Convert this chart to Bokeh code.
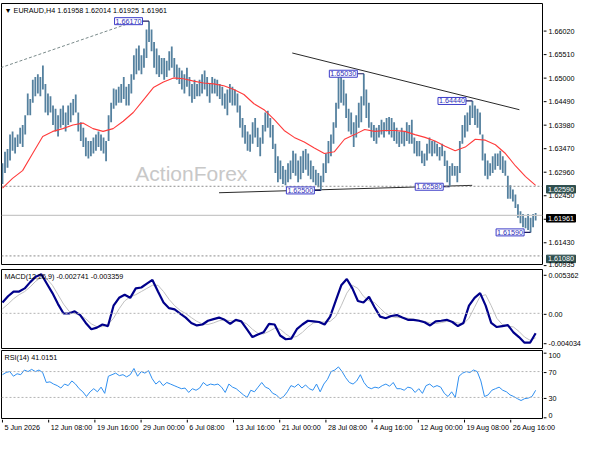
import numpy as np
from bokeh.plotting import figure
from bokeh.models import Range1d, Span, Label
from bokeh.layouts import column, row
from bokeh.core.properties import value
from bokeh.embed import file_html
from bokeh.resources import INLINE

# ---------------- data ----------------
SYMBOL_TITLE = "\u25BC EURAUD,H4  1.61958 1.62014 1.61925 1.61961"
LAST_BAR = 369.25  # index of last H4 bar

HIGH = [1.6309, 1.6334, 1.6340, 1.6371, 1.6378, 1.6365, 1.6371, 1.6386, 1.6392, 1.6413,
        1.6460, 1.6448, 1.6490, 1.6496, 1.6502, 1.6496, 1.6521, 1.6481, 1.6460, 1.6454,
        1.6434, 1.6427, 1.6413, 1.6427, 1.6434, 1.6419, 1.6434, 1.6440, 1.6448, 1.6458,
        1.6419, 1.6398, 1.6386, 1.6365, 1.6357, 1.6357, 1.6365, 1.6371, 1.6378, 1.6371,
        1.6365, 1.6357, 1.6413, 1.6440, 1.6471, 1.6469, 1.6475, 1.6481, 1.6496, 1.6475,
        1.6481, 1.6502, 1.6543, 1.6558, 1.6564, 1.6543, 1.6558, 1.6599, 1.6617, 1.6599,
        1.6572, 1.6558, 1.6543, 1.6537, 1.6537, 1.6531, 1.6552, 1.6562, 1.6537, 1.6523,
        1.6516, 1.6510, 1.6502, 1.6516, 1.6496, 1.6481, 1.6490, 1.6481, 1.6490, 1.6502,
        1.6510, 1.6496, 1.6481, 1.6496, 1.6492, 1.6490, 1.6481, 1.6475, 1.6460, 1.6469,
        1.6481, 1.6475, 1.6469, 1.6460, 1.6434, 1.6407, 1.6392, 1.6378, 1.6371, 1.6398,
        1.6407, 1.6386, 1.6365, 1.6392, 1.6419, 1.6423, 1.6407, 1.6392, 1.6351, 1.6324,
        1.6315, 1.6303, 1.6295, 1.6309, 1.6315, 1.6336, 1.6330, 1.6315, 1.6324, 1.6336,
        1.6340, 1.6330, 1.6315, 1.6303, 1.6295, 1.6288, 1.6282, 1.6309, 1.6330, 1.6357,
        1.6371, 1.6398, 1.6440, 1.6496, 1.6502, 1.6490, 1.6460, 1.6427, 1.6419, 1.6398,
        1.6413, 1.6440, 1.6454, 1.6503, 1.6469, 1.6440, 1.6398, 1.6392, 1.6386, 1.6392,
        1.6403, 1.6398, 1.6407, 1.6409, 1.6407, 1.6398, 1.6386, 1.6378, 1.6386, 1.6378,
        1.6398, 1.6392, 1.6403, 1.6365, 1.6357, 1.6357, 1.6336, 1.6330, 1.6351, 1.6365,
        1.6357, 1.6357, 1.6351, 1.6344, 1.6351, 1.6336, 1.6315, 1.6303, 1.6309, 1.6303,
        1.6303, 1.6357, 1.6392, 1.6413, 1.6419, 1.6434, 1.6444, 1.6434, 1.6427, 1.6419,
        1.6371, 1.6330, 1.6315, 1.6309, 1.6324, 1.6330, 1.6330, 1.6336, 1.6324, 1.6315,
        1.6282, 1.6261, 1.6252, 1.6241, 1.6220, 1.6205, 1.6199, 1.6191, 1.6199, 1.6191,
        1.6199, 1.6201]

LOW = [1.6264, 1.6288, 1.6299, 1.6315, 1.6336, 1.6330, 1.6344, 1.6351, 1.6344, 1.6371,
       1.6413, 1.6413, 1.6440, 1.6454, 1.6460, 1.6454, 1.6469, 1.6419, 1.6413, 1.6419,
       1.6392, 1.6378, 1.6367, 1.6386, 1.6392, 1.6378, 1.6392, 1.6398, 1.6413, 1.6419,
       1.6378, 1.6357, 1.6344, 1.6324, 1.6319, 1.6324, 1.6330, 1.6336, 1.6344, 1.6336,
       1.6330, 1.6313, 1.6357, 1.6398, 1.6427, 1.6434, 1.6440, 1.6440, 1.6448, 1.6434,
       1.6434, 1.6460, 1.6490, 1.6502, 1.6510, 1.6502, 1.6516, 1.6537, 1.6572, 1.6552,
       1.6516, 1.6502, 1.6496, 1.6502, 1.6490, 1.6496, 1.6510, 1.6516, 1.6496, 1.6490,
       1.6481, 1.6469, 1.6460, 1.6475, 1.6454, 1.6440, 1.6448, 1.6454, 1.6454, 1.6460,
       1.6469, 1.6454, 1.6440, 1.6460, 1.6460, 1.6454, 1.6448, 1.6434, 1.6427, 1.6413,
       1.6440, 1.6434, 1.6434, 1.6419, 1.6386, 1.6365, 1.6351, 1.6336, 1.6334, 1.6351,
       1.6365, 1.6344, 1.6324, 1.6351, 1.6378, 1.6386, 1.6365, 1.6340, 1.6288, 1.6268,
       1.6274, 1.6264, 1.6261, 1.6268, 1.6274, 1.6288, 1.6282, 1.6268, 1.6274, 1.6288,
       1.6295, 1.6282, 1.6274, 1.6268, 1.6261, 1.6257, 1.6250, 1.6268, 1.6288, 1.6309,
       1.6324, 1.6351, 1.6386, 1.6427, 1.6440, 1.6434, 1.6407, 1.6378, 1.6371, 1.6344,
       1.6365, 1.6386, 1.6398, 1.6434, 1.6407, 1.6386, 1.6365, 1.6357, 1.6351, 1.6365,
       1.6371, 1.6365, 1.6378, 1.6371, 1.6365, 1.6357, 1.6351, 1.6344, 1.6351, 1.6346,
       1.6357, 1.6351, 1.6351, 1.6330, 1.6324, 1.6324, 1.6309, 1.6303, 1.6315, 1.6330,
       1.6324, 1.6330, 1.6324, 1.6315, 1.6324, 1.6303, 1.6268, 1.6258, 1.6282, 1.6282,
       1.6268, 1.6288, 1.6351, 1.6365, 1.6378, 1.6392, 1.6407, 1.6392, 1.6386, 1.6371,
       1.6315, 1.6282, 1.6274, 1.6282, 1.6288, 1.6295, 1.6303, 1.6295, 1.6288, 1.6282,
       1.6232, 1.6232, 1.6226, 1.6212, 1.6191, 1.6179, 1.6170, 1.6168, 1.6164, 1.6159,
       1.6170, 1.6185]

MA = [1.6255, 1.6276, 1.6293, 1.6330, 1.6367, 1.6378, 1.6384, 1.6392, 1.6396, 1.6384,
      1.6378, 1.6384, 1.6400, 1.6419, 1.6446, 1.6473, 1.6485, 1.6494, 1.6492, 1.6487,
      1.6483, 1.6481, 1.6477, 1.6469, 1.6458, 1.6438, 1.6425, 1.6404, 1.6380, 1.6365,
      1.6355, 1.6342, 1.6330, 1.6334, 1.6361, 1.6371, 1.6382, 1.6378, 1.6380, 1.6380,
      1.6378, 1.6371, 1.6365, 1.6357, 1.6346, 1.6336, 1.6344, 1.6361, 1.6359, 1.6349,
      1.6330, 1.6303, 1.6280, 1.6261]

MACD_MAIN = [0.001483, 0.002345, 0.002992, 0.002992, 0.003422, 0.004285, 0.005017, 0.005362, 0.004069, 0.002776,
             0.001268, -0.000026, -0.000026, 0.000276, -0.000241, -0.001319, -0.002181, -0.001965, -0.001534, -0.001750,
             0.001052, 0.002130, 0.002561, 0.002130, 0.003422, 0.003552, 0.004069, 0.004586, 0.002992, 0.001483,
             0.000707, 0.000535, -0.000026, -0.000586, -0.001319, -0.001663, -0.001534, -0.001017, -0.000801, -0.000586,
             -0.000888, -0.001448, -0.000888, -0.001103, -0.002181, -0.003258, -0.002913, -0.002612, -0.001448, -0.001534,
             -0.003043, -0.003560, -0.003474, -0.002181, -0.001534, -0.001017, -0.001103, -0.001189, -0.001534, -0.000457,
             0.001699, 0.003854, 0.004716, 0.003422, 0.001699, 0.001483, 0.002259, 0.000837, -0.000457, -0.000672,
             -0.000371, -0.000241, -0.000586, -0.000888, -0.000888, -0.001017, -0.001232, -0.001663, -0.001103, -0.001017,
             -0.000888, -0.001189, -0.001750, -0.001319, 0.001052, 0.002130, 0.002776, 0.001052, -0.001319, -0.001879,
             -0.001750, -0.001620, -0.002612, -0.003258, -0.004034, -0.004034, -0.002741]

MACD_SIGNAL = [0.000621, 0.001268, 0.001996, 0.002561, 0.002992, 0.003638, 0.004414, 0.004931, 0.004716, 0.003854,
               0.002561, 0.001268, 0.000276, -0.000026, -0.000241, -0.000758, -0.001448, -0.001836, -0.001836, -0.001534,
               -0.000672, 0.000621, 0.001699, 0.002259, 0.002561, 0.002992, 0.003422, 0.003854, 0.003854, 0.002992,
               0.001914, 0.001052, 0.000405, -0.000026, -0.000586, -0.001103, -0.001448, -0.001534, -0.001319, -0.001017,
               -0.000888, -0.001017, -0.001103, -0.001103, -0.001448, -0.002181, -0.002741, -0.002827, -0.002482, -0.002051,
               -0.002181, -0.002827, -0.003344, -0.003172, -0.002612, -0.001879, -0.001319, -0.001189, -0.001189, -0.001103,
               -0.000457, 0.001052, 0.002776, 0.003854, 0.003422, 0.002345, 0.001699, 0.001483, 0.000707, -0.000026,
               -0.000457, -0.000586, -0.000586, -0.000672, -0.000801, -0.000931, -0.001103, -0.001319, -0.001405, -0.001275,
               -0.001103, -0.001103, -0.001319, -0.001448, -0.000672, 0.000837, 0.002345, 0.002561, 0.001052, -0.000672,
               -0.001534, -0.001750, -0.001879, -0.002482, -0.003258, -0.003700, -0.003359]

RSI = [65.2, 68.6, 70, 62.8, 66.6, 65.2, 72.4, 70, 73.4, 70,
       72.4, 68.6, 53.1, 54.1, 50.7, 48.3, 44.5, 50.7, 48.3, 55.5,
       50.7, 43.5, 38.7, 31.4, 38.7, 43.5, 38.7, 45.9, 36.3, 62.8,
       65.2, 67.6, 63.7, 65.2, 61.8, 65.2, 74.8, 62.8, 70, 67.6,
       71.4, 58.9, 50.7, 55.5, 48.3, 53.1, 50.7, 48.3, 45.9, 43.5,
       44.5, 37.7, 43.5, 41.1, 44.5, 53.1, 48.3, 50.7, 49.3, 50.7,
       45.9, 37.7, 50.7, 45.9, 43.5, 38.7, 33.9, 30, 41.1, 38.7,
       45.9, 53.1, 45.9, 43.5, 36.3, 33.9, 28.1, 31.4, 38.7, 48.3,
       45.9, 50.7, 44.5, 49.3, 43.5, 41.1, 50.7, 38.7, 50.7, 58,
       70, 72.4, 77.2, 70, 60.4, 53.1, 50.7, 55.5, 65.2, 53.1,
       45.9, 43.5, 45.9, 44.5, 48.3, 50.7, 47.3, 53.1, 43.5, 43.5,
       41.1, 45.9, 44.5, 37.7, 43.5, 36.3, 48.3, 50.7, 45.9, 48.3,
       45.9, 36.3, 31.4, 38.7, 30, 62.8, 67.6, 70, 68.6, 72.4,
       70, 55.5, 31.4, 33.9, 41.1, 43.5, 45.9, 41.1, 38.7, 33.9,
       31.4, 28.1, 25.2, 28.1, 29, 31.4, 41.0151]

DATE_LABELS = ["5 Jun 2026", "12 Jun 08:00", "19 Jun 16:00", "29 Jun 00:00", "6 Jul 08:00",
               "13 Jul 16:00", "21 Jul 00:00", "28 Jul 08:00", "4 Aug 16:00", "12 Aug 00:00",
               "19 Aug 08:00", "26 Aug 16:00"]
DATE_BARS = [0, 32, 64, 96, 128, 160, 192, 224, 256, 288, 320, 352]

PRICE_TICKS = [1.66020, 1.65510, 1.65000, 1.64490, 1.63980, 1.63470, 1.62960,
               1.62450, 1.61940, 1.61430]
PRICE_BOTTOM_TICK = 1.60935
MACD_TICKS = [0.005362, 0.0, -0.004034]
MACD_TICK_LABELS = ["0.005362", "0.00", "-0.004034"]
RSI_TICKS = [0, 30, 70, 100]
RSI_LEVELS = [30, 70]

PEAK_MARKS = [1.66170, 1.65030, 1.64440]
TROUGH_MARKS = [1.62500, 1.62580, 1.61590]
SUPPORT_LEVELS = [1.62590, 1.61080]
LAST_PRICE = 1.61961

TREND_RISE = ([-1.3, 96.7], [1.6516, 1.6622])
TREND_FALL = ([200.7, 358.0], [1.6548, 1.6425])
TREND_FLAT = ([150.0, 325.3], [1.6245, 1.6261])

MACD_TITLE = "MACD(12,26,9) -0.002741 -0.003359"
RSI_TITLE = "RSI(14) 41.0151"

# ---------------- styling / layout ----------------
FONT = "Liberation Sans"
FS = "7.2px"
BAR_COLOR = "#55819F"
FRAME_W = 541
STRIP_W = 41
X0, X1 = -0.67, 374.0
BPP = (X1 - X0) / FRAME_W  # bars per pixel

xs = np.linspace(0, LAST_BAR, len(HIGH))
x_range = Range1d(X0, X1)


def make_panel(frame_h, y0, y1, top, bottom):
    p = figure(frame_width=FRAME_W, frame_height=frame_h, x_range=x_range, y_range=Range1d(y0, y1),
               output_backend="svg", toolbar_location=None, y_axis_location=None, x_axis_location=None,
               min_border_left=1, min_border_right=1, min_border_top=top, min_border_bottom=bottom)
    p.grid.visible = False
    p.outline_line_color = "#000000"
    p.outline_line_width = 1
    p.background_fill_color = "white"
    p.border_fill_color = "white"
    return p


def make_strip(frame_h, y0, y1, top, bottom):
    # right-hand price scale: same vertical mapping as the panel, extended over its borders
    upp = (y1 - y0) / frame_h
    s = figure(frame_width=STRIP_W, frame_height=frame_h + top + bottom,
               x_range=Range1d(0, STRIP_W), y_range=Range1d(y0 - bottom * upp, y1 + top * upp),
               output_backend="svg", toolbar_location=None, y_axis_location=None, x_axis_location=None,
               min_border_left=0, min_border_right=0, min_border_top=0, min_border_bottom=0)
    s.grid.visible = False
    s.outline_line_color = None
    s.background_fill_color = "white"
    s.border_fill_color = "white"
    return s


def scale_labels(s, ticks, labels, baseline="middle", dy=0):
    s.segment(x0=0, x1=3, y0=ticks, y1=ticks, line_color="#000000", line_width=1)
    s.text(x=5, y=ticks, text=labels, y_offset=dy, text_font=value(FONT), text_font_size=value(FS),
           text_color="#000000", text_align="left", text_baseline=baseline)


def boxed(s, v, fill):
    s.rect(x=[17.5], y=[v], width=29, height=7.5, width_units="screen", height_units="screen",
           fill_color=fill, line_color=fill)
    s.text(x=[4.5], y=[v], text=[f"{v:.5f}"], text_font=value(FONT), text_font_size=value(FS),
           text_color="white", text_align="left", text_baseline="middle")


# ---------------- main price panel ----------------
PY0, PY1 = 1.60894, 1.66553
p1 = make_panel(261, PY0, PY1, 3, 4)
s1 = make_strip(261, PY0, PY1, 3, 4)

for lvl in SUPPORT_LEVELS:
    p1.add_layout(Span(location=lvl, dimension="width", line_color="#8C8C8C",
                       line_dash="2 2", line_width=1))
p1.add_layout(Span(location=LAST_PRICE, dimension="width", line_color="#C8C8C8", line_width=1.2))

p1.add_layout(Label(x=92, y=1.6286, text="ActionForex", text_font=FONT, text_font_size="21px",
                    text_color="#C8C8C8", text_baseline="alphabetic"))

p1.line(TREND_RISE[0], TREND_RISE[1], line_color="#7A8A8A", line_dash="3 2", line_width=1)
p1.line(TREND_FALL[0], TREND_FALL[1], line_color="#2A2A2A", line_width=1)
p1.line(TREND_FLAT[0], TREND_FLAT[1], line_color="#2A2A2A", line_width=1)

p1.segment(x0=xs, y0=LOW, x1=xs, y1=HIGH, line_color=BAR_COLOR, line_width=1.8)
p1.line(np.linspace(0, LAST_BAR, len(MA)), MA, line_color="#FF3B3B", line_width=1.1)

high_arr = np.array(HIGH)
low_arr = np.array(LOW)
marks = [(v, xs[int(np.argmin(np.abs(high_arr - v)))]) for v in PEAK_MARKS] + \
        [(v, xs[int(np.argmin(np.abs(low_arr - v)))]) for v in TROUGH_MARKS]
for v, bx in marks:
    p1.segment(x0=[bx - 4.5], y0=[v], x1=[bx], y1=[v], line_color="#1A1A60", line_width=1.2)
    p1.add_layout(Label(x=bx - 4.5, y=v, text=f"{v:.5f}", text_font=FONT, text_font_size=FS,
                        text_color="#2E2EB8", text_align="right", text_baseline="middle",
                        background_fill_color="white", border_line_color="#3C3CC8",
                        border_line_width=1, padding=1))

p1.add_layout(Label(x=X0, y=PY1, x_offset=3, y_offset=-2, text=SYMBOL_TITLE,
                    text_font=FONT, text_font_size=FS, text_color="#000000", text_baseline="top"))

scale_labels(s1, PRICE_TICKS, [f"{t:.5f}" for t in PRICE_TICKS])
boxed(s1, SUPPORT_LEVELS[0], "#2F4F4F")
boxed(s1, SUPPORT_LEVELS[1], "#2F4F4F")
boxed(s1, LAST_PRICE, "#000000")
scale_labels(s1, [PRICE_BOTTOM_TICK], [f"{PRICE_BOTTOM_TICK:.5f}"], dy=-1)

# ---------------- MACD panel ----------------
MY0, MY1 = -0.00483, 0.00602
p2 = make_panel(79, MY0, MY1, 1, 1)
s2 = make_strip(79, MY0, MY1, 1, 1)
p2.add_layout(Span(location=0, dimension="width", line_color="#B4B4B4", line_dash="2 2", line_width=1))
mx = np.linspace(0, LAST_BAR, len(MACD_MAIN))
p2.line(mx, MACD_SIGNAL, line_color="#C0C0C0", line_width=1)
p2.line(mx, MACD_MAIN, line_color="#00008B", line_width=2.2)
p2.add_layout(Label(x=X0, y=MY1, x_offset=3, y_offset=-2, text=MACD_TITLE,
                    text_font=FONT, text_font_size=FS, text_color="#000000", text_baseline="top"))
scale_labels(s2, MACD_TICKS, MACD_TICK_LABELS)

# ---------------- RSI panel ----------------
RY0, RY1 = -2.6, 102.6
p3 = make_panel(68, RY0, RY1, 1, 1)
s3 = make_strip(68, RY0, RY1, 1, 1)
for lvl in RSI_LEVELS:
    p3.add_layout(Span(location=lvl, dimension="width", line_color="#B4B4B4", line_dash="2 2", line_width=1))
p3.line(np.linspace(0, LAST_BAR, len(RSI)), RSI, line_color="#2F8FF0", line_width=1)
p3.add_layout(Label(x=X0, y=RY1, x_offset=3, y_offset=-2, text=RSI_TITLE,
                    text_font=FONT, text_font_size=FS, text_color="#000000", text_baseline="top"))
scale_labels(s3, RSI_TICKS[1:3], [str(t) for t in RSI_TICKS[1:3]])
scale_labels(s3, RSI_TICKS[3:], [str(t) for t in RSI_TICKS[3:]], baseline="top")
scale_labels(s3, RSI_TICKS[:1], [str(t) for t in RSI_TICKS[:1]], baseline="bottom")

# ---------------- time scale ----------------
TW = FRAME_W + 2 + STRIP_W
p4 = figure(frame_width=TW, frame_height=15,
            x_range=Range1d(X0 - BPP, X0 + (TW - 1) * BPP), y_range=Range1d(0, 15),
            output_backend="svg", toolbar_location=None, y_axis_location=None, x_axis_location=None,
            min_border_left=0, min_border_right=0, min_border_top=0, min_border_bottom=0)
p4.grid.visible = False
p4.outline_line_color = None
p4.segment(x0=DATE_BARS, x1=DATE_BARS, y0=15, y1=12, line_color="#000000", line_width=1)
p4.text(x=DATE_BARS, y=7, text=DATE_LABELS, x_offset=2, text_font=value(FONT),
        text_font_size=value(FS), text_color="#000000", text_align="left", text_baseline="middle")

layout = column(row(p1, s1, spacing=0), row(p2, s2, spacing=0), row(p3, s3, spacing=0), p4, spacing=0)
open("out.html", "w").write(file_html(layout, INLINE))
